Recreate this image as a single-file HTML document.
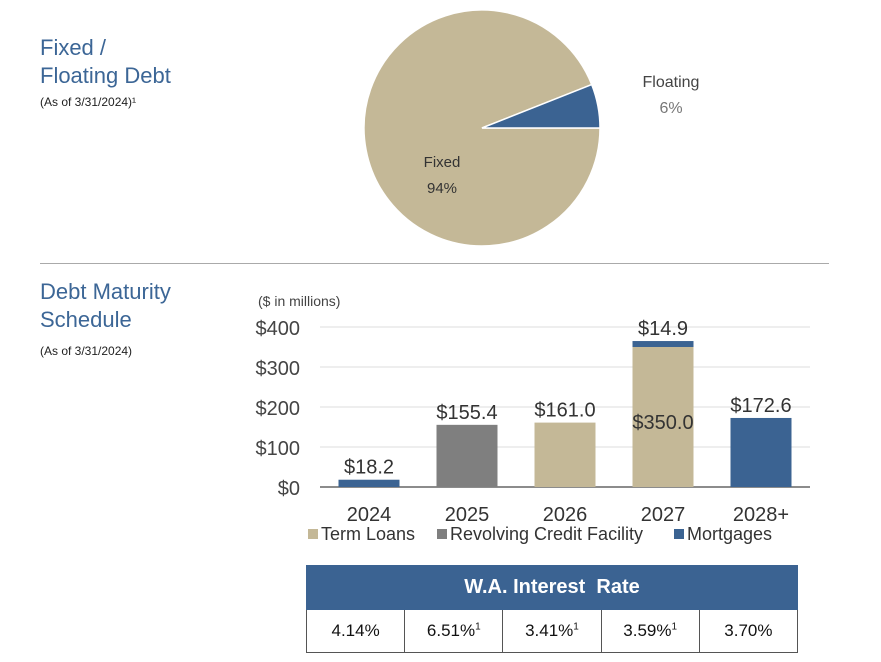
<!DOCTYPE html>
<html><head><meta charset="utf-8"><style>
body{margin:0;width:881px;height:662px;background:#fff;font-family:"Liberation Sans",sans-serif;position:relative;overflow:hidden}
.t{position:absolute;color:#3c6696;font-size:22px;line-height:28px}
.s{position:absolute;color:#222;font-size:12px}
table{position:absolute;left:306px;top:565px;width:492px;border-collapse:collapse;table-layout:fixed}
td{border:1px solid #555;text-align:center;font-size:17px;height:40px;color:#111;width:20%}
th{background:#3b6392;color:#fff;font-size:20px;height:41px;border:1px solid #3b6392}
sup{font-size:10px}
</style></head><body>
<div class="t" style="left:40px;top:34px">Fixed /<br>Floating Debt</div>
<div class="s" style="left:40px;top:95px">(As of 3/31/2024)¹</div>
<div class="t" style="left:40px;top:278px">Debt Maturity<br>Schedule</div>
<div class="s" style="left:40px;top:344px">(As of 3/31/2024)</div>
<div style="position:absolute;left:40px;top:263px;width:789px;height:1px;background:#aaa"></div>
<svg id="pie" width="881" height="262" style="position:absolute;left:0;top:0"></svg>
<svg id="bar" width="881" height="560" style="position:absolute;left:0;top:0"></svg>
<table>
<tr><th colspan="5">W.A. Interest&nbsp; Rate</th></tr>
<tr><td>4.14%</td><td>6.51%<sup>1</sup></td><td>3.41%<sup>1</sup></td><td>3.59%<sup>1</sup></td><td>3.70%</td></tr>
</table>
<script>
const pieLabels=["Fixed","Floating"];
const pieValues=[94,6];
const years=["2024","2025","2026","2027","2028+"];
const termLoans=[0,0,161.0,350.0,0];
const revolving=[0,155.4,0,0,0];
const mortgages=[18.2,0,0,14.9,172.6];
const yTicks=[0,100,200,300,400];
const NS="http://www.w3.org/2000/svg";
function mk(p,t,a){const e=document.createElementNS(NS,t);for(const k in a)e.setAttribute(k,a[k]);p.appendChild(e);return e;}
const pie=document.getElementById('pie');
const cx=482,cy=128,r=118,tot=pieValues.reduce((a,b)=>a+b,0);
const pcol=["#c4b897","#3b6392"];
const fl=pieValues[1]/tot*2*Math.PI;
function wedge(a0,a1,col,name){const large=(a1-a0)>Math.PI?1:0;
const x0=cx+r*Math.cos(a0),y0=cy+r*Math.sin(a0),x1=cx+r*Math.cos(a1),y1=cy+r*Math.sin(a1);
const p=mk(pie,'path',{d:`M${cx},${cy}L${x0},${y0}A${r},${r} 0 ${large} 1 ${x1},${y1}Z`,fill:col,stroke:'#fff','stroke-width':1.5});

}
wedge(0,2*Math.PI-fl,pcol[0],'slice-fixed');
wedge(-fl,0,pcol[1],'slice-floating');
function tx(p,x,y,s,txt,anchor,col,name,size){const e=mk(p,'text',{x:x,y:y,'font-size':size,'text-anchor':anchor,fill:col,'font-family':'Liberation Sans, sans-serif'});e.textContent=txt;

return e;}
tx(pie,442,167,0,pieLabels[0],'middle','#333','pie-label-fixed',15);
tx(pie,442,193,0,pieValues[0]+'%','middle','#333','pie-value-fixed',15);
tx(pie,671,87,0,pieLabels[1],'middle','#444','pie-label-floating',16);
tx(pie,671,113,0,pieValues[1]+'%','middle','#777','pie-value-floating',16);
const bar=document.getElementById('bar');
const y0=487,pxu=160/400,x0=320,band=98,bw=61;
const Y=v=>y0-v*pxu, X=i=>x0+band*i+band/2;
yTicks.forEach(t=>{const l=mk(bar,'line',{x1:320,x2:810,y1:Y(t),y2:Y(t),stroke:t?'#ddd':'#666','stroke-width':t?1:1.5});


tx(bar,300,Y(t)+8,0,'$'+t,'end','#444','y-tick-label',20);});
tx(bar,258,306,0,'($ in millions)','start','#444','units-label',14);
const series=[[termLoans,'#c4b897','term'],[revolving,'#7f7f7f','revolving'],[mortgages,'#3b6392','mortgage']];
years.forEach((yr,i)=>{let base=0;
series.forEach(([arr,col,n])=>{const v=arr[i];if(!v)return;
const rc=mk(bar,'rect',{x:X(i)-bw/2,y:Y(base+v),width:bw,height:v*pxu,fill:col});


base+=v;});
tx(bar,X(i),521,0,yr,'middle','#333','x-tick-label',20);
const top=termLoans[i]+revolving[i]+mortgages[i];
if(termLoans[i]&&mortgages[i]){tx(bar,X(i),Y(top)-6,0,'$'+mortgages[i].toFixed(1),'middle','#333','value-label',20);
tx(bar,X(i),Y(termLoans[i])+82,0,'$'+termLoans[i].toFixed(1),'middle','#333','value-label',20);}
else tx(bar,X(i),Y(top)-6,0,'$'+top.toFixed(1),'middle','#333','value-label',20);});
const leg=[['Term Loans','#c4b897',308],['Revolving Credit Facility','#7f7f7f',437],['Mortgages','#3b6392',674]];
leg.forEach(([n,c,x])=>{const r=mk(bar,'rect',{x:x,y:529,width:10,height:10,fill:c});


tx(bar,x+13,540,0,n,'start','#333','legend-entry',18);});
</script>
</body></html>
